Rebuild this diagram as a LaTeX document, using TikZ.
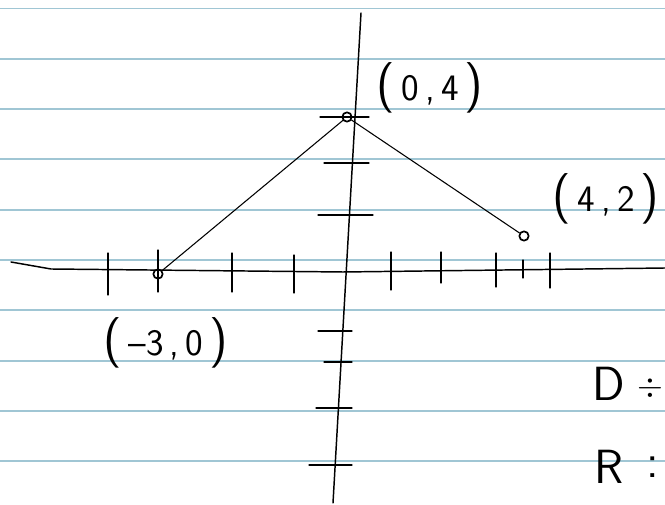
\documentclass[tikz,border=0pt]{standalone}
\usepackage{amsmath}
\usepackage{tikz}
\usetikzlibrary{arrows.meta, positioning, calc}

\definecolor{ruleblue}{RGB}{160,198,212}

% handwritten point label: big parens, small digits
\newcommand{\bigparen}[1]{{\fontsize{38}{38}\selectfont #1}}
\newcommand{\coordtxt}[2]{\bigparen{(}\,#1\,,\,#2\,\bigparen{)}}

\begin{document}
\begin{tikzpicture}[x=0.75pt, y=-0.75pt, >=Stealth, line cap=round, line join=round]
        % Styles
        \tikzstyle{ruled} = [ruleblue, line width=1.4pt]
        \tikzstyle{axis} = [black, line width=1.1pt]
        \tikzstyle{tick} = [black, line width=0.9pt]
        \tikzstyle{graph} = [black, line width=0.8pt]
        \tikzstyle{dot} = [draw, circle, inner sep=0pt, minimum size=7pt, line width=1.3pt]
        \tikzstyle{hand} = [font=\sffamily\fontsize{28}{28}\selectfont, inner sep=0pt]
        \tikzstyle{bighand} = [font=\sffamily\fontsize{36}{36}\selectfont, inner sep=0pt]

        \useasboundingbox[fill=white] (0,0) rectangle (665,505);

        % Paper lines
        \foreach \i in {0,...,9}
            \draw[ruled] (0,8.5+50.3*\i) -- (665,8.5+50.3*\i);

        % Axes
        \coordinate (ytop) at (361,13);
        \coordinate (ybot) at (333,503);
        \coordinate (xleft) at (11,262);
        \coordinate (xbend) at (51,269);
        \coordinate (xmid) at (343,272);
        \coordinate (xright) at (665,268);
        \draw[axis] (ytop) -- (ybot);
        \draw[axis] (xleft) -- (xbend) -- (xmid) -- (xright);

        % Ticks
        \foreach \x/\a/\b in {108/253/295, 158/250/292, 232/253/292, 294/255/293, 391/252/290, 441/252/283, 496/253/287, 523/260/278, 550/253/288}
            \draw[tick] (\x,\a) -- (\x,\b);
        \foreach \y/\a/\b in {117/320/369, 163/324/369, 215/318/373, 331/318/352, 362/324/352, 408/316/352, 465/309/352}
            \draw[tick] (\a,\y) -- (\b,\y);

        % Points
        \node[dot] (pleft) at (158,274) {};
        \node[dot] (ptop) at (347,117) {};
        \node[dot] (pright) at (524,236) {};

        % Graph
        \draw[graph] (pleft) -- (ptop);
        \draw[graph] (ptop) -- (pright);

        % Labels
        \node[hand] (lbltop) at (430,88) {\coordtxt{0}{4}};
        \node[hand] (lblright) at (606,199) {\coordtxt{4}{2}};
        \node[hand] (lblleft) at (166,343) {\coordtxt{--3}{0}};

        % Domain and range
        \node[bighand] (dom) at (609,384) {D};
        \node[font=\fontsize{28}{28}\selectfont, inner sep=0pt] (domsign) at (650,388) {$\div$};
        \node[bighand, below=37pt of dom] (rng) {R};
        \node[bighand] (rngsign) at (653,467) {:};
    \end{tikzpicture}
\end{document}
